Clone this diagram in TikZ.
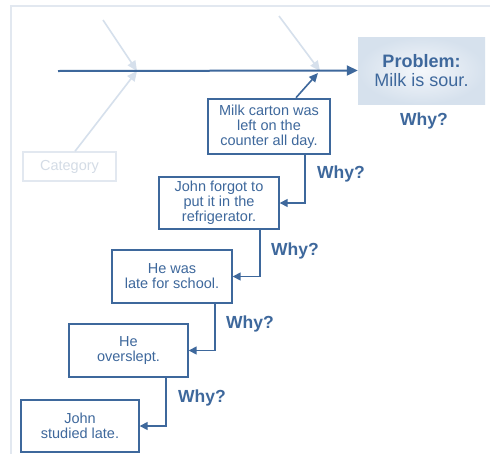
\documentclass[tikz,border=0pt]{standalone}
\usepackage{fontspec}
\setmainfont{Liberation Sans}
\usetikzlibrary{arrows.meta}
\definecolor{ink}{RGB}{62,104,156}
\definecolor{faint}{RGB}{214,224,236}
\definecolor{faintline}{RGB}{226,232,240}
\definecolor{fainttext}{RGB}{212,220,230}
\definecolor{panelout}{RGB}{214,225,237}
\definecolor{panelin}{RGB}{244,247,251}
\tikzset{
  causebox/.style={draw=ink, line width=1.4pt, text=ink, align=center,
    inner sep=2pt, font=\fontsize{14.5}{15}\selectfont},
  whylabel/.style={text=ink, font=\bfseries\fontsize{17.5}{18}\selectfont},
  conn/.style={draw=ink, line width=1.5pt, -{Triangle[length=8pt,width=8pt]}},
  rib/.style={draw=faint, line width=1.6pt, -{Triangle[length=10pt,width=9pt]}},
}
\begin{document}
\begin{tikzpicture}[x=1pt,y=-1pt]
\useasboundingbox (0,0) rectangle (490,453);
\fill[white] (0,0) rectangle (490,453);
% outer frame
\draw[faintline, line width=1.2pt] (11,460) -- (11,6) -- (500,6);

% problem panel
\node[minimum width=127pt, minimum height=67pt, inner sep=0pt,
      inner color=panelin, outer color=panelout, align=center, text=ink,
      font=\fontsize{18}{19.5}\selectfont]
  (problem) at (421.5,70.5)
  {\textbf{Problem:}\\Milk is sour.};
\node[whylabel] (why0) at (424,121) {Why?};

% fishbone spine and faded ribs
\coordinate (tail) at (58,71);
\coordinate (j1) at (137,71);
\coordinate (j2) at (320,71);
\coordinate (r1) at (103,20);
\coordinate (r2) at (279,16);
\node[draw=faintline, line width=1.4pt, minimum width=93pt, minimum height=29pt,
      inner sep=0pt, text=fainttext, font=\fontsize{14.5}{15}\selectfont]
  (cat) at (69.5,166.5) {Category};
\draw[rib] (r1) -- (j1);
\draw[rib] (r2) -- (j2);
\draw[rib] (cat.north -| 75,0) -- (j1);
\draw[draw=ink, line width=2pt, -{Triangle[length=11pt,width=10pt]}] (tail) -- (problem.west);

% chain of causes
\node[causebox, line width=2.6pt, minimum width=122pt, minimum height=55pt]
  (milk) at (269,126.5) {Milk carton was\\left on the\\counter all day.};
\node[causebox, minimum width=120pt, minimum height=52pt]
  (john) at (219,203) {John forgot to\\put it in the\\refrigerator.};
\node[causebox, minimum width=120pt, minimum height=53pt]
  (late) at (172,276.5) {He was\\late for school.};
\node[causebox, minimum width=119pt, minimum height=53pt]
  (over) at (128.5,350.5) {He\\overslept.};
\node[causebox, minimum width=118pt, minimum height=52pt]
  (study) at (80,426) {John\\studied late.};

\coordinate (j2b) at (318,73);
\draw[draw=ink, line width=1.6pt, -{Triangle[length=9pt,width=8pt]}]
  (milk.north -| 296,0) -- (j2b);

\draw[conn] (milk.south -| 305,0) |- (john.east);
\draw[conn] (john.south -| 260,0) |- (late.east);
\draw[conn] (late.south -| 215,0) |- (over.east);
\draw[conn] (over.south -| 166,0) |- (study.east);

\node[whylabel] (why1) at (341,174) {Why?};
\node[whylabel] (why2) at (295,251) {Why?};
\node[whylabel] (why3) at (250,324) {Why?};
\node[whylabel] (why4) at (202,398) {Why?};
\end{tikzpicture}
\end{document}
